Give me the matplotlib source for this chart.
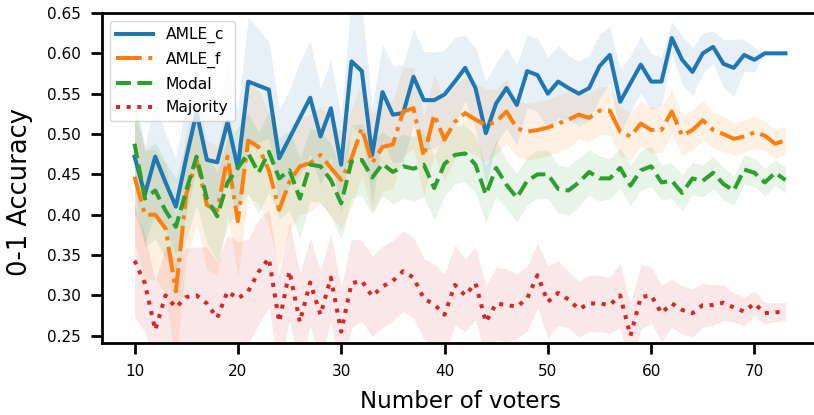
import numpy as np
import matplotlib
matplotlib.use("Agg")
import matplotlib.pyplot as plt

voters = list(range(10, 74))

amle_c = [0.472, 0.425, 0.472, 0.440, 0.410, 0.470, 0.527, 0.468, 0.465, 0.515,
          0.458, 0.565, 0.560, 0.555, 0.470, 0.495, 0.520, 0.545, 0.497, 0.532,
          0.462, 0.590, 0.578, 0.474, 0.552, 0.524, 0.526, 0.571, 0.542, 0.542,
          0.549, 0.565, 0.582, 0.557, 0.501, 0.538, 0.557, 0.536, 0.578, 0.573,
          0.550, 0.565, 0.557, 0.550, 0.557, 0.584, 0.598, 0.540, 0.563, 0.586,
          0.565, 0.565, 0.619, 0.592, 0.577, 0.600, 0.608, 0.587, 0.582, 0.598,
          0.592, 0.600, 0.600, 0.600]
amle_c_err = [0.07, 0.06, 0.07, 0.06, 0.06, 0.07, 0.07, 0.06, 0.06, 0.07,
              0.07, 0.08, 0.07, 0.06, 0.06, 0.06, 0.07, 0.07, 0.06, 0.06,
              0.06, 0.08, 0.08, 0.06, 0.06, 0.06, 0.06, 0.06, 0.06, 0.06,
              0.055, 0.055, 0.04, 0.05, 0.065, 0.05, 0.05, 0.05, 0.045, 0.045,
              0.045, 0.045, 0.04, 0.04, 0.04, 0.04, 0.035, 0.04, 0.035, 0.035,
              0.035, 0.03, 0.02, 0.03, 0.03, 0.025, 0.02, 0.03, 0.035, 0.02,
              0.015, 0.0, 0.0, 0.0]

amle_f = [0.447, 0.400, 0.400, 0.383, 0.305, 0.425, 0.468, 0.412, 0.405, 0.472,
          0.392, 0.492, 0.484, 0.455, 0.406, 0.441, 0.460, 0.464, 0.474, 0.458,
          0.443, 0.470, 0.507, 0.464, 0.484, 0.487, 0.528, 0.532, 0.472, 0.524,
          0.493, 0.515, 0.526, 0.518, 0.511, 0.515, 0.528, 0.507, 0.503, 0.505,
          0.508, 0.513, 0.518, 0.524, 0.520, 0.529, 0.529, 0.503, 0.497, 0.513,
          0.505, 0.505, 0.528, 0.498, 0.505, 0.517, 0.505, 0.500, 0.494, 0.497,
          0.502, 0.498, 0.488, 0.492]
amle_f_err = [0.08, 0.08, 0.08, 0.08, 0.09, 0.08, 0.08, 0.08, 0.08, 0.07,
              0.07, 0.07, 0.07, 0.07, 0.07, 0.06, 0.06, 0.06, 0.06, 0.06,
              0.06, 0.06, 0.06, 0.06, 0.055, 0.055, 0.055, 0.05, 0.05, 0.05,
              0.05, 0.045, 0.045, 0.045, 0.045, 0.04, 0.04, 0.035, 0.035, 0.035,
              0.035, 0.035, 0.035, 0.03, 0.03, 0.03, 0.03, 0.03, 0.03, 0.028,
              0.028, 0.028, 0.028, 0.025, 0.025, 0.025, 0.022, 0.022, 0.02, 0.02,
              0.02, 0.018, 0.018, 0.017]

modal = [0.488, 0.420, 0.430, 0.405, 0.385, 0.430, 0.472, 0.420, 0.398, 0.440,
         0.458, 0.476, 0.452, 0.478, 0.445, 0.455, 0.420, 0.462, 0.460, 0.443,
         0.414, 0.466, 0.468, 0.446, 0.463, 0.453, 0.460, 0.457, 0.462, 0.433,
         0.463, 0.474, 0.476, 0.462, 0.425, 0.458, 0.437, 0.421, 0.442, 0.450,
         0.450, 0.432, 0.430, 0.440, 0.453, 0.445, 0.445, 0.458, 0.436, 0.455,
         0.460, 0.440, 0.442, 0.427, 0.445, 0.442, 0.452, 0.438, 0.430, 0.456,
         0.452, 0.440, 0.452, 0.443]
modal_err = [0.06, 0.06, 0.06, 0.06, 0.06, 0.06, 0.06, 0.055, 0.055, 0.055,
             0.05, 0.05, 0.05, 0.05, 0.05, 0.05, 0.05, 0.045, 0.045, 0.045,
             0.045, 0.045, 0.045, 0.045, 0.04, 0.04, 0.04, 0.04, 0.04, 0.04,
             0.04, 0.035, 0.035, 0.035, 0.035, 0.035, 0.03, 0.03, 0.03, 0.03,
             0.03, 0.03, 0.03, 0.03, 0.028, 0.028, 0.025, 0.025, 0.025, 0.025,
             0.025, 0.022, 0.022, 0.022, 0.02, 0.02, 0.02, 0.02, 0.018, 0.018,
             0.017, 0.017, 0.016, 0.016]

majority = [0.343, 0.315, 0.257, 0.300, 0.285, 0.298, 0.300, 0.290, 0.272, 0.305,
            0.296, 0.305, 0.329, 0.346, 0.267, 0.330, 0.267, 0.316, 0.276, 0.322,
            0.255, 0.315, 0.318, 0.299, 0.311, 0.318, 0.330, 0.322, 0.296, 0.289,
            0.276, 0.313, 0.300, 0.315, 0.267, 0.290, 0.288, 0.286, 0.296, 0.325,
            0.292, 0.303, 0.295, 0.283, 0.290, 0.290, 0.288, 0.300, 0.250, 0.298,
            0.300, 0.278, 0.290, 0.282, 0.278, 0.288, 0.288, 0.291, 0.285, 0.280,
            0.290, 0.278, 0.279, 0.280]
majority_err = [0.07, 0.06, 0.06, 0.06, 0.06, 0.06, 0.06, 0.07, 0.07, 0.07,
                0.07, 0.065, 0.065, 0.06, 0.06, 0.06, 0.06, 0.055, 0.055, 0.055,
                0.055, 0.055, 0.05, 0.05, 0.05, 0.05, 0.05, 0.05, 0.05, 0.05,
                0.05, 0.05, 0.045, 0.045, 0.045, 0.045, 0.045, 0.04, 0.04, 0.04,
                0.045, 0.04, 0.035, 0.035, 0.035, 0.035, 0.035, 0.04, 0.04, 0.04,
                0.035, 0.035, 0.03, 0.03, 0.03, 0.027, 0.025, 0.022, 0.018, 0.018,
                0.015, 0.013, 0.012, 0.011]

series = [
    ("AMLE_c", amle_c, amle_c_err, "#1f77b4", "-"),
    ("AMLE_f", amle_f, amle_f_err, "#ff7f0e", "-."),
    ("Modal", modal, modal_err, "#2ca02c", "--"),
    ("Majority", majority, majority_err, "#d62728", ":"),
]

plt.rcParams["font.family"] = ["DejaVu Sans"]

fig = plt.figure(figsize=(8.14, 4.15), dpi=100)
ax = fig.add_axes([102 / 814, 72 / 415, 716 / 814, 330 / 415])

x = np.array(voters)
for name, mean, err, color, ls in series:
    m = np.array(mean)
    e = np.array(err)
    ax.fill_between(x, m - e, m + e, color=color, alpha=0.11, linewidth=0)
for name, mean, err, color, ls in series:
    ax.plot(x, mean, color=color, linestyle=ls, linewidth=2.9, label=name)

ax.set_xlim(6.85, 76.15)
ax.set_ylim(0.241, 0.65)
ax.set_yticks(np.arange(0.25, 0.651, 0.05))
ax.set_xticks([10, 20, 30, 40, 50, 60, 70])
ax.yaxis.set_major_formatter(matplotlib.ticker.FormatStrFormatter("%.2f"))

for s in ax.spines.values():
    s.set_linewidth(2.0)
ax.tick_params(axis="both", which="major", length=8, width=2.0, pad=7,
               labelsize=11)

ax.set_xlabel("Number of voters", fontsize=16.5, labelpad=8)
ax.set_ylabel("0-1 Accuracy", fontsize=18.5)
ax.yaxis.set_label_coords(-0.097, 0.458)

ax.legend(loc="upper left", fontsize=11.2, handlelength=2.4,
          labelspacing=0.55, borderaxespad=0.5, framealpha=0.8)

fig.savefig("out.png", dpi=100)
